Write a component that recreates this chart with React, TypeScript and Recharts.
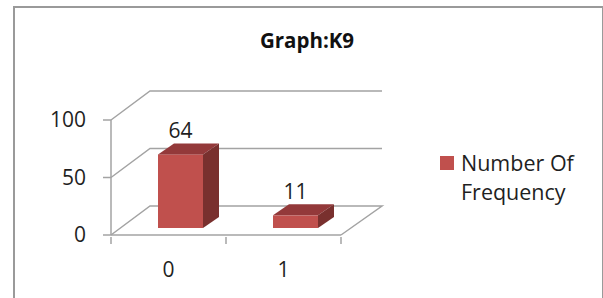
import { Bar, BarChart, CartesianGrid, LabelList, Legend, XAxis, YAxis } from "recharts";

const categories = ["0", "1"];
const frequencies = [64, 11];
const yTicks = [0, 50, 100];
const seriesName = "Number Of Frequency";
const title = "Graph:K9";

const data = categories.map((c, i) => ({ name: c, value: frequencies[i] }));

const FONT = "'Open Sans', 'Noto Sans', sans-serif";
const GRID = "#a3a3a3";
// depth of the back wall and of the bar boxes
const WALL_DX = 39;
const WALL_DY = -29;
const BAR_OX = 12;
const BAR_OY = -7;
const BAR_DX = 16;
const BAR_DY = -11;
const PLOT_W = 230;

function Box3D(props: any) {
  const { x, y, width, height } = props;
  const fx = x + BAR_OX;
  const fy = y + BAR_OY;
  const top = `M${fx},${fy} L${fx + BAR_DX},${fy + BAR_DY} L${fx + width + BAR_DX},${fy + BAR_DY} L${fx + width},${fy} Z`;
  const side = `M${fx + width},${fy} L${fx + width + BAR_DX},${fy + BAR_DY} L${fx + width + BAR_DX},${fy + height + BAR_DY} L${fx + width},${fy + height} Z`;
  return (
    <g>
      <rect x={fx} y={fy} width={width} height={height} fill="#c0504d" />
      <path d={top} fill="#93393a" />
      <path d={side} fill="#79302e" />
    </g>
  );
}

function BackLine(props: any) {
  const { x1, x2, y1, index } = props;
  const bottom = index === 0 || y1 >= 234;
  let d = `M${x1},${y1} L${x1 + WALL_DX},${y1 + WALL_DY} L${x2 + WALL_DX + 2},${y1 + WALL_DY}`;
  if (bottom) d += ` L${x2},${y1}`;
  return <path key={`bl-${y1}`} d={d} stroke={GRID} strokeWidth={1.5} fill="none" />;
}

function XTick(props: any) {
  const { x, y, payload, index } = props;
  const half = PLOT_W / categories.length / 2;
  return (
    <g>
      <line x1={x - half} y1={y} x2={x - half} y2={y + 7} stroke={GRID} strokeWidth={1.5} />
      {index === categories.length - 1 && (
        <line x1={x + half} y1={y} x2={x + half} y2={y + 7} stroke={GRID} strokeWidth={1.5} />
      )}
      <text x={x} y={y + 32} textAnchor="middle" dominantBaseline="central" fontSize={21} fill="#1f1f1f" fontFamily={FONT}>
        {payload.value}
      </text>
    </g>
  );
}

function ValueLabel(props: any) {
  const { x, y, width, value } = props;
  return (
    <text x={x + BAR_OX + width / 2} y={y + BAR_OY - 24} textAnchor="middle" dominantBaseline="central" fontSize={21} fill="#1f1f1f" fontFamily={FONT}>
      {value}
    </text>
  );
}

function LegendBox(props: any) {
  const item = props.payload?.[0];
  return (
    <div style={{ display: "flex", alignItems: "flex-start", fontFamily: FONT, fontSize: 21.5, lineHeight: "29px", color: "#1f1f1f" }}>
      <div style={{ width: 14, height: 14, background: "#c0504d", marginTop: 8, marginRight: 7, flex: "none" }} />
      <div style={{ width: 130 }}>{item ? item.value : seriesName}</div>
    </div>
  );
}

export default function App() {
  return (
    <div style={{ position: "fixed", left: 0, top: 0, width: 603, height: 298, background: "#fff", overflow: "hidden" }}>
      <div style={{ position: "absolute", left: 13, top: 6, width: 587, height: 320, border: "2px solid #9a9a9a" }} />
      <div style={{ position: "absolute", left: 0, top: 26, width: 614, textAlign: "center", fontFamily: FONT, fontWeight: 700, fontSize: 20.5, color: "#111" }}>
        {title}
      </div>
      <div style={{ position: "absolute", left: 0, top: 0 }}>
        <BarChart width={603} height={298} data={data} margin={{ top: 120, left: 51, right: 262, bottom: 33 }} barCategoryGap={35}>
          <CartesianGrid vertical={false} horizontal={(p: any) => <BackLine {...p} />} />
          <XAxis dataKey="name" height={30} axisLine={{ stroke: GRID, strokeWidth: 1.5 }} tickLine={false} tickSize={0} tick={<XTick />} interval={0} />
          <YAxis
            width={60}
            domain={[0, 100]}
            ticks={yTicks}
            axisLine={{ stroke: GRID, strokeWidth: 1.5 }}
            tickLine={{ stroke: GRID, strokeWidth: 1.5 }}
            tickSize={8}
            tickMargin={17}
            tick={{ fontSize: 21, fill: "#1f1f1f", fontFamily: FONT }}
          />
          <Legend
            layout="vertical"
            align="center"
            verticalAlign="middle"
            content={<LegendBox />}
            wrapperStyle={{ position: "absolute", left: 440, top: 148, width: 160 }}
          />
          <Bar dataKey="value" name={seriesName} fill="#c0504d" shape={<Box3D />} isAnimationActive={false}>
            <LabelList dataKey="value" content={<ValueLabel />} />
          </Bar>
        </BarChart>
      </div>
    </div>
  );
}
